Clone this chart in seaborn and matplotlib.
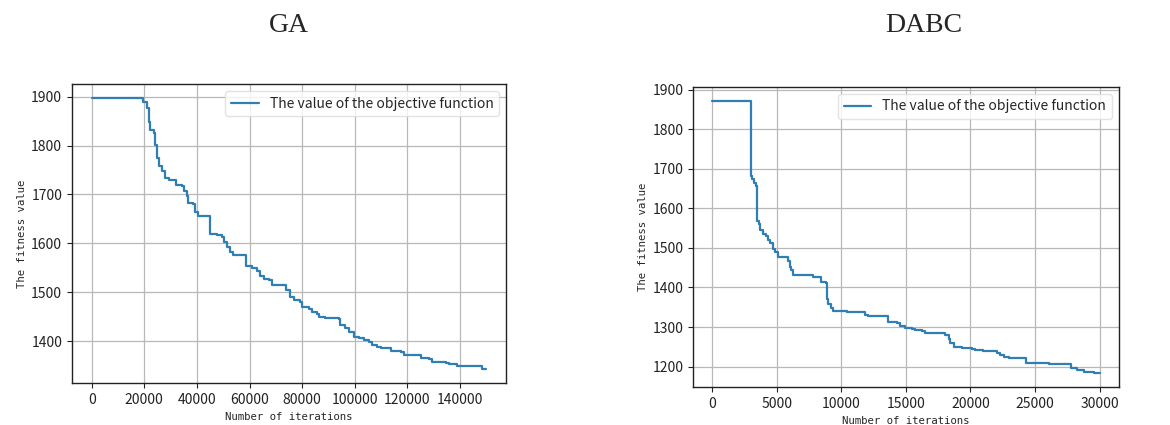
import pandas as pd
import matplotlib
matplotlib.use("Agg")
import matplotlib.pyplot as plt
import seaborn as sns

# GA convergence curve (step values)
ga_iter = [0, 19400, 20900, 21600, 22000, 23500, 24100, 25000, 25500, 26600, 27900, 29200,
           32100, 34300, 35100, 36200, 36800, 38500, 39100, 40600, 44800, 47600, 49500,
           50400, 51400, 52700, 53900, 58800, 60900, 62800, 64100, 65400, 67300, 68500,
           74000, 75500, 76800, 79300, 79900, 82500, 83800, 85700, 86300, 88800, 93900,
           94500, 96400, 97700, 99600, 101500, 103400, 105300, 106600, 108500, 109800,
           113600, 117400, 118600, 125000, 128200, 129500, 131300, 134500, 135800,
           139000, 148500, 150000]
ga_fitness = [1898, 1890, 1876, 1849, 1832, 1825, 1802, 1775, 1758, 1748, 1734, 1729,
              1720, 1717, 1707, 1697, 1683, 1680, 1663, 1656, 1620, 1617, 1612,
              1602, 1592, 1582, 1577, 1554, 1550, 1544, 1534, 1527, 1525, 1514,
              1504, 1491, 1483, 1480, 1470, 1466, 1460, 1455, 1449, 1448, 1446,
              1432, 1426, 1419, 1409, 1407, 1402, 1399, 1392, 1387, 1385,
              1380, 1378, 1372, 1365, 1363, 1358, 1357, 1355, 1353,
              1349, 1342, 1342]

# DABC convergence curve
dabc_iter = [0, 3030, 3100, 3200, 3420, 3490, 3600, 3670, 3930, 4190, 4320, 4500, 4710,
             4840, 5100, 5870, 6000, 6130, 6260, 7820, 8390, 8800, 8900, 8980, 9160,
             9370, 10400, 11830, 12090, 13640, 14290, 14540, 14930, 15450, 15710,
             16230, 16490, 18040, 18300, 18430, 18690, 19330, 20110, 20370, 21010,
             22050, 22310, 22570, 22960, 24330, 25280, 26060, 27800, 28260, 28780,
             29560, 30000]
dabc_fitness = [1872, 1682, 1674, 1663, 1657, 1569, 1560, 1544, 1535, 1529, 1520, 1512, 1498,
                1489, 1478, 1468, 1452, 1443, 1431, 1426, 1414, 1411, 1372, 1359, 1349,
                1341, 1338, 1330, 1327, 1313, 1311, 1302, 1298, 1296, 1292,
                1290, 1286, 1280, 1271, 1260, 1250, 1246, 1244, 1242, 1239,
                1234, 1229, 1225, 1223, 1210, 1208, 1206, 1196, 1192, 1187,
                1183, 1183]

titles = ["GA", "DABC"]
legend_label = "The value of the objective function"

sns.set_style("white")
plt.rcParams["font.family"] = ["Noto Sans CJK SC", "DejaVu Sans"]

fig = plt.figure(figsize=(11.7, 4.25), dpi=100)
ax1 = fig.add_axes([0.0615, 0.0988, 0.371, 0.7035])
ax2 = fig.add_axes([0.5923, 0.0894, 0.364, 0.706])

panels = [(ax1, ga_iter, ga_fitness), (ax2, dabc_iter, dabc_fitness)]
for ax, xs, ys in panels:
    df = pd.DataFrame({"iter": xs, "fitness": ys})
    sns.lineplot(data=df, x="iter", y="fitness", ax=ax, color="#2f7fb5",
                 linewidth=1.6, drawstyle="steps-post", label=legend_label)
    ax.grid(True, color="#b8b8b8", linewidth=0.9)
    for sp in ax.spines.values():
        sp.set_color("#222222")
        sp.set_linewidth(1.0)
    ax.tick_params(axis="both", labelsize=10, length=3.5, color="#222222",
                   left=True, bottom=True, labelcolor="#222222")
    ax.set_xlabel("Number of iterations", family="DejaVu Sans Mono", fontsize=7.7)
    ax.set_ylabel("The fitness value", family="DejaVu Sans Mono", fontsize=7.7,
                  labelpad=3)
    ax.legend(loc="upper right", fontsize=10, frameon=True, edgecolor="#dddddd",
              fancybox=True)

ax1.set_yticks([1400, 1500, 1600, 1700, 1800, 1900])
ax1.set_xticks([0, 20000, 40000, 60000, 80000, 100000, 120000, 140000])
ax2.set_yticks([1200, 1300, 1400, 1500, 1600, 1700, 1800, 1900])
ax2.set_xticks([0, 5000, 10000, 15000, 20000, 25000, 30000])

fig.text(289 / 1170, 1 - 25 / 425, titles[0], family="Liberation Serif",
         fontsize=20, ha="center", va="center")
fig.text(924 / 1170, 1 - 25 / 425, titles[1], family="Liberation Serif",
         fontsize=20, ha="center", va="center")

fig.savefig("out.png", dpi=100)
